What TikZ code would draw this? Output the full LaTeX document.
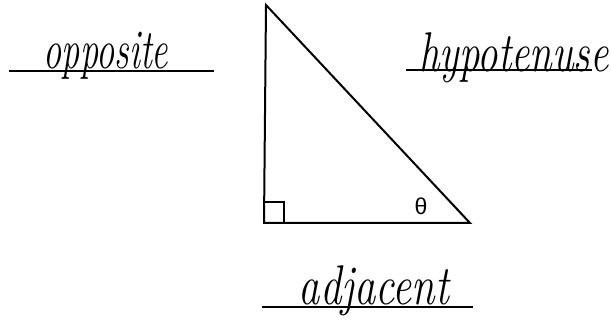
\documentclass[tikz,border=0pt]{standalone}
\usepackage{fontspec}
\newfontfamily\greekfont{Liberation Sans}
\tikzset{
  side/.style={line width=2pt},
  rule/.style={line width=2.4pt},
  handtext/.style={font=\fontsize{56}{56}\selectfont\itshape,inner sep=0pt,anchor=base}
}
\begin{document}
\begin{tikzpicture}[x=1pt,y=-1pt]
\useasboundingbox (0,0) rectangle (611,328);
% triangle
\coordinate (top) at (266,5);
\coordinate (corner) at (264,223);
\coordinate (tip) at (470,223);
\draw[side,line join=miter] (top) -- (corner) -- (tip) -- cycle;
\draw[line width=1.2pt] (corner) rectangle (284,202);
\node[font=\greekfont\fontsize{23}{23}\selectfont,inner sep=0pt] (theta) at (421,206) {θ};
% labels
\node[handtext] (opp) at (106,69) {\scalebox{0.65}[1]{opposite}};
\draw[rule] (9,71) coordinate (oppL) -- (214,71) coordinate (oppR);
\node[handtext] (hyp) at (514,72) {\scalebox{0.73}[1]{hypotenuse}};
\draw[rule] (406,70) coordinate (hypL) -- (592,70) coordinate (hypR);
\node[handtext] (adj) at (374,305) {\scalebox{0.76}[1]{adjacent}};
\draw[line width=1.6pt] (262,307) coordinate (adjL) -- (473,307) coordinate (adjR);
\end{tikzpicture}
\end{document}
